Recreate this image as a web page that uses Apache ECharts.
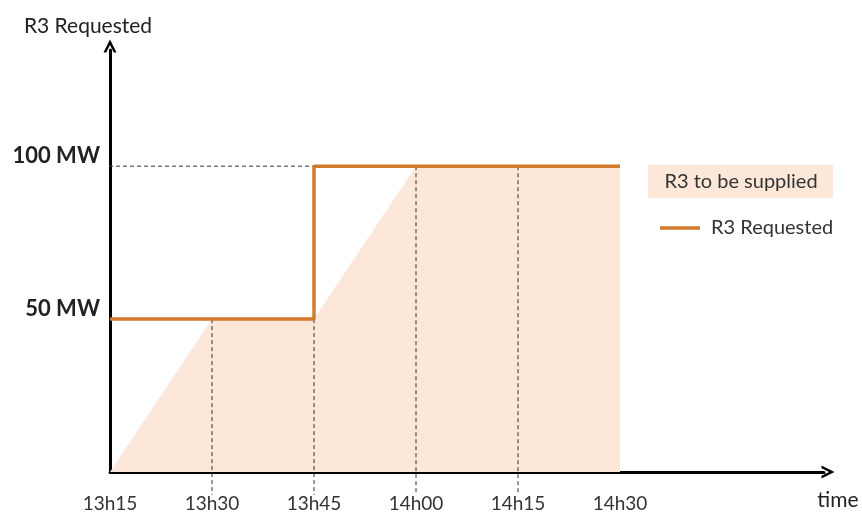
<!DOCTYPE html>
<html>
<head>
<meta charset="utf-8">
<script src="https://cdn.jsdelivr.net/npm/echarts@6/dist/echarts.min.js"></script>
<style>html,body{margin:0;padding:0;background:#fff;}#c{width:862px;height:516px;}</style>
</head>
<body>
<div id="c"></div>
<script>
// minutes after 13h15
const tickLabels = ['13h15', '13h30', '13h45', '14h00', '14h15', '14h30'];
const tickStep = 15;
const yTicks = [50, 100];
const yUnit = 'MW';

const requestedX = [0, 30, 30, 75];
const requestedY = [50, 50, 100, 100];

const suppliedX = [0, 15, 30, 45, 75];
const suppliedY = [0, 50, 50, 100, 100];

const guideX = [15, 30, 45, 60];
const guideTop = [50, 50, 100, 100];
const guideBottom = -7.5;
const hGuideY = [50, 100];
const hGuideEnd = [0, 30];
const hGuideStart = -2.2;

const seriesNames = ['R3 to be supplied', 'R3 Requested'];
const yName = 'R3 Requested';
const xName = 'time';

const ORANGE = '#d17a2c';
const FILL = '#fce7d8';
const FONT = 'Lato';

const series = [];
series.push({
  name: seriesNames[0], type: 'line', symbol: 'none',
  data: suppliedX.map((x, i) => [x, suppliedY[i]]),
  lineStyle: { width: 0 }, areaStyle: { color: FILL, opacity: 1 }, z: 1
});
guideX.forEach((x, i) => {
  series.push({
    type: 'line', symbol: 'none', clip: false, silent: true,
    data: [[x, guideTop[i]], [x, guideBottom]],
    lineStyle: { color: '#333', width: 1, type: [4, 3] }, z: 2
  });
});
hGuideY.forEach((y, i) => {
  series.push({
    type: 'line', symbol: 'none', clip: false, silent: true,
    data: [[hGuideStart, y], [hGuideEnd[i], y]],
    lineStyle: { color: '#333', width: 1, type: [4, 3] }, z: 2
  });
});
series.push({
  name: seriesNames[1], type: 'line', symbol: 'none',
  data: requestedX.map((x, i) => [x, requestedY[i]]),
  lineStyle: { color: ORANGE, width: 3.5 }, z: 5
});

const arrow = 'path://M0,12 L6,0 L12,12 L9.5,12 L6,5 L2.5,12 Z';

const chart = echarts.init(document.getElementById('c'));
chart.setOption({
  animation: false,
  grid: { left: 110, right: 38, top: 50, bottom: 44 },
  xAxis: {
    type: 'value', min: 0, max: 105, interval: tickStep,
    name: xName, nameLocation: 'end', nameGap: 14,
    nameTextStyle: { fontFamily: FONT, fontSize: 21, color: '#222', align: 'center', verticalAlign: 'top', padding: [18, 0, 0, 0] },
    axisLine: { lineStyle: { color: '#000', width: 3 }, symbol: ['none', arrow], symbolSize: [13, 13], symbolOffset: [0, 4] },
    axisTick: { show: false }, splitLine: { show: false },
    axisLabel: {
      margin: 22, fontFamily: FONT, fontSize: 19, color: '#333',
      formatter: v => { const i = Math.round(v / tickStep); return i < tickLabels.length ? tickLabels[i] : ''; }
    }
  },
  yAxis: {
    type: 'value', min: 0, max: 138, interval: 50,
    name: yName, nameLocation: 'end', nameGap: 13,
    nameTextStyle: { fontFamily: FONT, fontSize: 21, color: '#222', align: 'center', padding: [0, 44, 0, 0] },
    axisLine: { lineStyle: { color: '#000', width: 3 }, symbol: ['none', arrow], symbolSize: [13, 13], symbolOffset: [0, 4] },
    axisTick: { show: false }, splitLine: { show: false },
    axisLabel: {
      margin: 10, fontFamily: FONT, fontSize: 22, fontWeight: 'bold', color: '#222', verticalAlign: 'bottom',
      lineHeight: 20,
      formatter: v => yTicks.includes(v) ? v + ' ' + yUnit : ''
    }
  },
  legend: { show: false },
  series: series,
  graphic: [
    { type: 'rect', left: 648, top: 165, shape: { width: 185, height: 33 }, style: { fill: FILL } },
    { type: 'text', x: 741, y: 182, style: { text: seriesNames[0], fontFamily: FONT, fontSize: 20, fill: '#333', textAlign: 'center', textVerticalAlign: 'middle' } },
    { type: 'line', shape: { x1: 660, y1: 228, x2: 700, y2: 228 }, style: { stroke: ORANGE, lineWidth: 3.5 } },
    { type: 'text', x: 711, y: 228, style: { text: seriesNames[1], fontFamily: FONT, fontSize: 20, fill: '#333', textAlign: 'left', textVerticalAlign: 'middle' } }
  ]
});
</script>
</body>
</html>
